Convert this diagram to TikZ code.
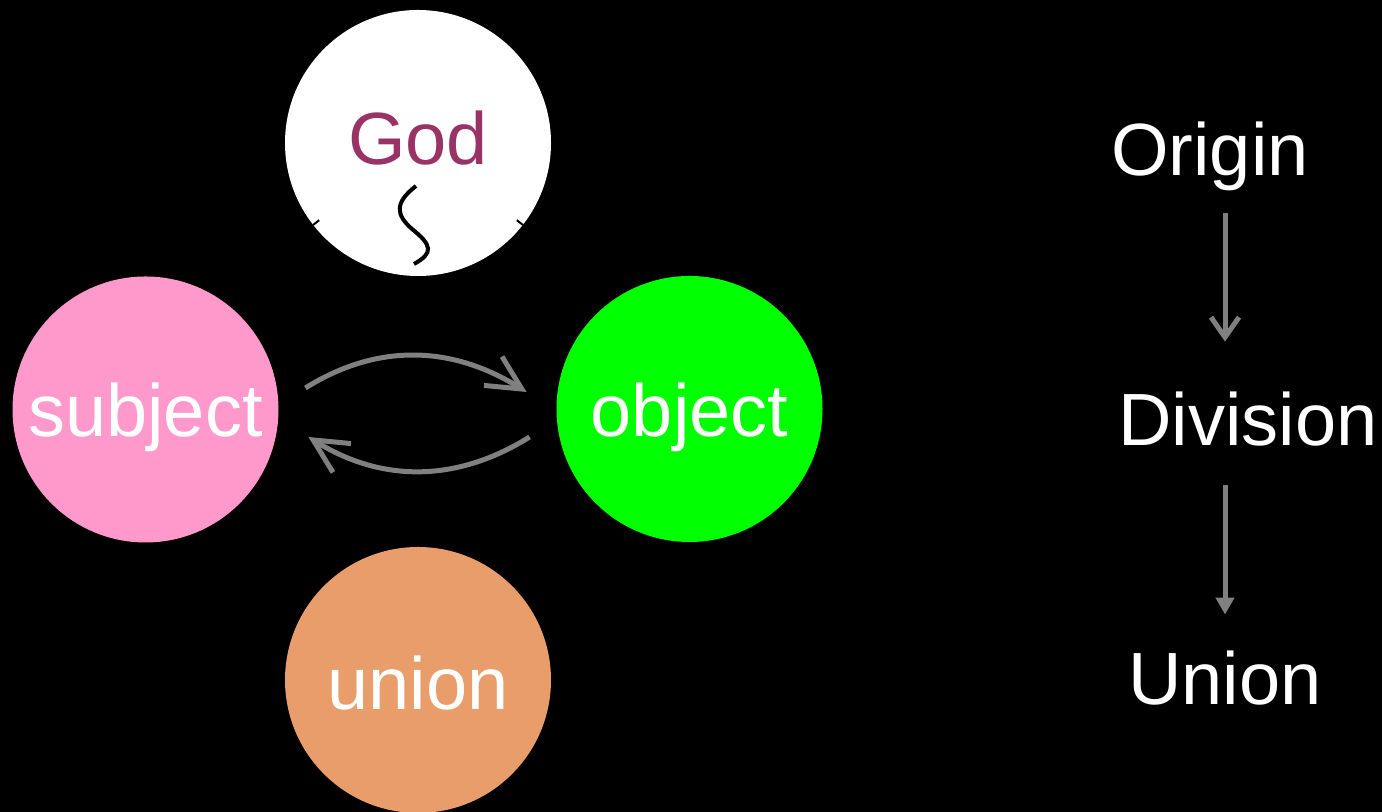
\documentclass[tikz,border=0pt]{standalone}
\usepackage{fontspec}
\setmainfont{Liberation Sans}
\usetikzlibrary{calc}
\usetikzlibrary{arrows.meta}

\definecolor{godtext}{HTML}{993366}
\definecolor{subjpink}{HTML}{FF99CC}
\definecolor{objgreen}{HTML}{00FF00}
\definecolor{unionbrown}{HTML}{E99D6A}
\definecolor{arcgray}{HTML}{808080}

\begin{document}
\begin{tikzpicture}[x=0.5pt, y=0.5pt,
    ball/.style={circle, minimum size=133pt, inner sep=0},
    word/.style={anchor=base, inner sep=0, text height=27pt, text depth=8pt,
      font=\fontsize{37}{44}\selectfont, text=white},
    swap/.style={draw=arcgray, line width=2.5pt,
      -{Straight Barb[length=17pt, width=17pt]}},
    flow/.style={draw=arcgray, line width=2.5pt}
  ]
  \fill[black] (0,0) rectangle (1382,812);
  \useasboundingbox (0,0) rectangle (1382,812);

  \node[ball, fill=white] (god) at (418,669) {};
  \node[ball, fill=subjpink] (subj) at (145.5,402.5) {};
  \node[ball, fill=objgreen] (obj) at (689.5,403) {};
  \node[ball, fill=unionbrown] (union) at (418,132) {};

  \node[word, text=godtext] (godtxt) at ([yshift=-11pt]god.center) {God};
  \node[word] (subjtxt) at ([yshift=-13.75pt]subj.center) {subject};
  \node[word] (objtxt) at ([yshift=-14pt]obj.center) {object};
  \node[word] (uniontxt) at ([yshift=-15pt]union.center) {union};

  \node[word] (origin) at (1210,636) {Origin};
  \node[word] (division) at (1248,366) {Division};
  \node[word] (unionword) at (1225,107) {Union};

  \draw[line width=2pt, shift={(god.center)}]
    (-2,-43) .. controls (-24,-60) and (-22,-72) .. (-6,-86)
    .. controls (14,-102) and (16,-110) .. (-4,-121);
  \draw[line width=1pt] (god.218) -- ($(god.218)!4pt!(god.center)$);
  \draw[line width=1pt] (god.322) -- ($(god.322)!4pt!(god.center)$);

  \coordinate (sa) at ($(subj.east)+(26.5,21.5)$);
  \coordinate (ta) at ($(obj.west)+(-29.5,17)$);
  \coordinate (tb) at ($(obj.west)+(-26.5,-28)$);
  \coordinate (sb) at ($(subj.east)+(29.5,-27.5)$);
  \draw[swap] (sa) to[out=32,in=148] (ta);
  \draw[swap] (tb) to[out=212,in=-32] (sb);

  \draw[flow, shorten <=10.5pt, shorten >=25pt,
    -{Straight Barb[length=10pt, width=14pt]}]
    (origin.south -| unionword) -- (division.north -| unionword);
  \draw[flow, shorten <=11.5pt, shorten >=18pt,
    -{Triangle[length=8.5pt, width=9pt]}]
    (division.south -| unionword) -- (unionword.north);
\end{tikzpicture}
\end{document}
